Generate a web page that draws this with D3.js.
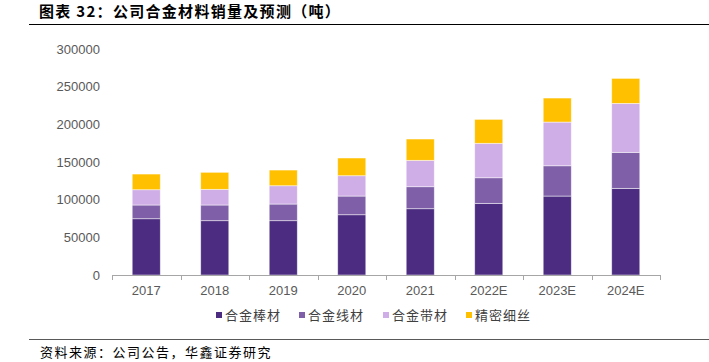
<!DOCTYPE html>
<html><head><meta charset="utf-8">
<script src="https://cdn.jsdelivr.net/npm/d3@7/dist/d3.min.js"></script>
<style>body{margin:0;background:#fff;}svg{display:block;}</style>
</head><body>
<svg id="c" width="709" height="362"></svg>
<script>
const categories = ["2017","2018","2019","2020","2021","2022E","2023E","2024E"];
const seriesNames = ["合金棒材","合金线材","合金带材","精密细丝"];
const bar = [74700, 72100, 72100, 80000, 88000, 95100, 104800, 115000];
const wire = [18200, 20800, 22100, 24800, 29200, 34000, 40200, 47800];
const strip = [20300, 20800, 24300, 27000, 35000, 45700, 58000, 65000];
const fine = [20800, 22600, 20800, 23500, 28300, 31800, 31900, 33200];
const yTicks = [0, 50000, 100000, 150000, 200000, 250000, 300000];
const colors = ["#4B2C80", "#7E5FA8", "#CFADE6", "#FFC000"];
const title = "图表 32：公司合金材料销量及预测（吨）";
const source = "资料来源：公司公告，华鑫证券研究";

const svg = d3.select("#c");
const cjk = "'Noto Sans CJK SC','Noto Sans',sans-serif";
const latin = "'Liberation Sans',Arial,sans-serif";

// title
svg.append("text").attr("x", 39).attr("y", 17).text(title)
  .attr("font-family", cjk).attr("font-weight", "bold").attr("font-size", 15)
  .attr("letter-spacing", 1.3).attr("fill", "#000");
svg.append("line").attr("x1", 29).attr("x2", 709).attr("y1", 24.5).attr("y2", 24.5)
  .attr("stroke", "#000").attr("stroke-width", 1);

const x = d3.scaleBand().domain(categories).range([112, 660]).paddingInner(0).paddingOuter(0);
const y = d3.scaleLinear().domain([0, 300000]).range([275, 49]);

const data = categories.map((c, i) => ({cat: c, "合金棒材": bar[i], "合金线材": wire[i], "合金带材": strip[i], "精密细丝": fine[i]}));
const stacked = d3.stack().keys(seriesNames)(data);

const bw = x.bandwidth() * 0.41;
svg.append("g").selectAll("g").data(stacked).join("g")
  .attr("fill", (d, i) => colors[i])
  .selectAll("rect").data(d => d).join("rect")
  .attr("x", d => x(d.data.cat) + (x.bandwidth() - bw) / 2)
  .attr("width", bw)
  .attr("y", d => y(d[1]))
  .attr("height", d => y(d[0]) - y(d[1]))
  .attr("stroke", "rgba(255,255,255,0.6)").attr("stroke-width", 0.8);

// y axis labels
const ya = svg.append("g").attr("transform", "translate(100,0)")
  .call(d3.axisLeft(y).tickValues(yTicks).tickSize(0).tickPadding(0).tickFormat(d3.format("d")));
ya.select(".domain").remove();
ya.selectAll("text").attr("font-family", latin).attr("font-size", 13).attr("fill", "#595959");

// x axis
const xa = svg.append("g").attr("transform", "translate(0,275)")
  .call(d3.axisBottom(x).tickSize(0).tickPadding(11));
xa.select(".domain").attr("stroke", "#A6A6A6").attr("d", "M112,0.5H660");
xa.selectAll("text").attr("font-family", latin).attr("font-size", 13).attr("fill", "#595959");
// boundary tick marks
const bounds = categories.map(c => x(c)).concat([x.range()[1]]);
svg.append("g").selectAll("line").data(bounds).join("line")
  .attr("x1", d => Math.round(d) + 0.5).attr("x2", d => Math.round(d) + 0.5)
  .attr("y1", 275).attr("y2", 280).attr("stroke", "#A6A6A6");

// legend
const legendX = [216, 299, 383, 466];
const lg = svg.append("g").selectAll("g").data(seriesNames).join("g")
  .attr("transform", (d, i) => `translate(${legendX[i]},315)`);
lg.append("rect").attr("x", 0).attr("y", -3).attr("width", 6).attr("height", 6).attr("fill", (d, i) => colors[i]);
lg.append("text").attr("x", 9).attr("y", 0).attr("dy", "0.35em").text(d => d)
  .attr("font-family", cjk).attr("font-size", 13).attr("letter-spacing", 1).attr("fill", "#404040");

// footer
svg.append("line").attr("x1", 29).attr("x2", 709).attr("y1", 339.5).attr("y2", 339.5)
  .attr("stroke", "#595959").attr("stroke-width", 1);
svg.append("text").attr("x", 40).attr("y", 357).text(source)
  .attr("font-family", cjk).attr("font-size", 13).attr("letter-spacing", 1.5).attr("fill", "#000");
</script>
</body></html>
